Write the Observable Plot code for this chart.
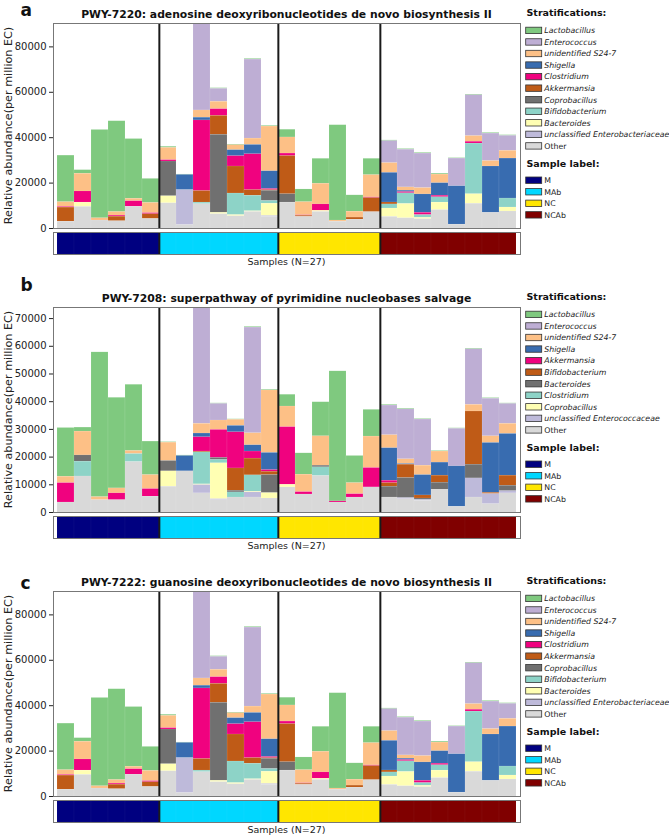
<!DOCTYPE html>
<html><head><meta charset="utf-8">
<script src="https://cdn.jsdelivr.net/npm/d3@7"></script>
<script src="https://cdn.jsdelivr.net/npm/@observablehq/plot@0.6"></script>
<style>
body{margin:0;background:#fff;}
#chart{position:relative;width:669px;height:836px;overflow:hidden;background:#fff;font-family:"DejaVu Sans",sans-serif;}
#chart svg{position:absolute;left:0;}
</style></head><body><div id="chart"></div>
<script>
// ---------- categories ----------
const samples = ["S1","S2","S3","S4","S5","S6","S7","S8","S9","S10","S11","S12","S13","S14","S15","S16","S17","S18","S19","S20","S21","S22","S23","S24","S25","S26","S27"];
const sampleGroups = ["M","M","M","M","M","M","MAb","MAb","MAb","MAb","MAb","MAb","MAb","NC","NC","NC","NC","NC","NC","NCAb","NCAb","NCAb","NCAb","NCAb","NCAb","NCAb","NCAb"];
const groupNames = ["M","MAb","NC","NCAb"];
const groupColors = ["#000080","#00d7ff","#ffe600","#800000"];
const stratColors = ["#7fc97f","#beaed4","#fdc086","#386cb0","#f0027f","#bf5b17","#707070","#8dd3c7","#ffffb3","#bebada","#d9d9d9"];

// ---------- PWY-7220 / PWY-7222 (identical panels a and c) ----------
const taxaA = ["Lactobacillus","Enterococcus","unidentified S24-7","Shigella","Clostridium","Akkermansia","Coprobacillus","Bifidobacterium","Bacteroides","unclassified Enterobacteriaceae","Other"];
const A_Lactobacillus = [20500,1600,38900,40000,26300,10600, 500,200,0,300,300,300,300, 3400,5600,11000,42000,7200,7200, 300,300,300,400,200,300,300,300];
const A_Enterococcus  = [0,0,0,0,0,0, 0,0,42000,5700,0,34800,0, 0,0,0,0,0,0, 9700,16600,15200,0,12200,18000,12100,6600];
const A_S24_7         = [2100,7800,1000,1600,1100,4500, 5400,0,3200,3250,2200,2800,19700, 7100,5800,9100,500,2600,9800, 4300,1450,2800,3800,0,2500,2400,3400];
const A_Shigella      = [0,0,0,0,0,0, 0,6700,1200,0,2650,4100,7800, 0,0,0,0,0,0, 13050,600,8100,5500,16900,0,20400,17600];
const A_Clostridium   = [300,4900,0,450,2400,450, 600,0,31100,2950,4550,15800,500, 1100,200,2800,0,0,300, 0,550,1000,700,0,800,0,0];
const A_Akkermansia   = [6200,0,0,2000,0,2100, 0,0,5100,8350,11900,2500,300, 16800,500,0,0,900,6200, 850,0,0,0,0,0,0,0];
const A_Coprobacillus = [0,0,0,0,0,0, 15300,0,0,34350,0,0,4500, 3700,0,0,0,0,0, 0,0,0,0,0,0,0,0];
const A_Bifidobacterium = [0,0,0,0,0,0, 0,0,700,0,9500,6800,1200, 0,0,0,0,0,0, 1800,4700,1200,2350,0,22300,0,3950];
const A_Bacteroides   = [0,1900,0,0,0,0, 3100,0,0,600,500,300,5400, 0,0,500,0,0,0, 3700,6300,600,3300,0,4200,0,1750];
const A_Unclassified  = [0,0,0,0,0,0, 0,15400,0,0,0,0,400, 0,0,0,0,0,0, 0,0,0,0,0,0,0,0];
const A_Other         = [3000,9500,3500,3200,9600,4200, 11100,1500,10700,6300,5400,7300,5100, 11400,5100,7300,3000,3900,7200, 5100,4500,4100,8100,1700,10900,6900,7500];
const valuesA = [A_Lactobacillus,A_Enterococcus,A_S24_7,A_Shigella,A_Clostridium,A_Akkermansia,A_Coprobacillus,A_Bifidobacterium,A_Bacteroides,A_Unclassified,A_Other];

// ---------- PWY-7208 (panel b) ----------
const taxaB = ["Lactobacillus","Enterococcus","unidentified S24-7","Shigella","Akkermansia","Bifidobacterium","Bacteroides","Clostridium","Coprobacillus","unclassified Enterococcaceae","Other"];
const B_Lactobacillus = [17600,1450,52250,32700,23900,12100, 200,200,0,200,200,250,250, 4250,7700,12300,46950,9800,9650, 250,250,200,200,200,250,250,200];
const B_Enterococcus  = [0,0,0,0,0,0, 0,0,44000,6000,0,38150,0, 0,0,0,0,0,0, 10700,18000,16650,0,13550,20050,13550,7200];
const B_S24_7         = [2300,8600,1100,1800,1100,5050, 6600,0,3500,3400,2200,4350,22550, 7450,6300,10600,0,4000,11350, 4700,1700,3400,4000,0,2400,2400,3650];
const B_Shigella      = [0,0,0,0,0,0, 0,5550,1350,0,2300,2250,6200, 0,0,0,0,0,0, 11750,250,7350,4700,14600,0,18000,15050];
const B_Akkermansia   = [7000,0,0,2450,0,2750, 0,0,5150,10100,13050,2550,600, 20800,850,0,400,1200,7000, 850,0,0,0,0,0,0,0];
const B_Bifidobacterium = [0,0,0,0,0,0, 0,0,300,0,8050,6050,1200, 0,0,0,0,0,0, 1300,4800,1100,2550,0,19200,450,3650];
const B_Bacteroides   = [0,2250,0,0,0,0, 3750,0,0,750,600,0,6500, 0,0,600,0,0,0, 3900,7250,500,2550,0,4950,0,1950];
const B_Clostridium   = [0,5350,0,0,2900,0, 0,0,11550,1200,1850,5900,0, 0,0,3150,0,0,0, 0,0,0,0,0,0,0,0];
const B_Coprobacillus = [0,0,0,0,0,0, 5550,0,250,12950,0,250,1950, 950,0,0,0,0,0, 0,0,0,0,0,0,0,0];
const B_Unclassified  = [0,0,0,0,0,0, 0,0,3000,350,0,1850,0, 0,0,0,0,0,0, 0,400,350,0,0,6900,3650,800];
const B_Other         = [3600,13000,4450,4450,18200,5700, 9300,14850,6900,4450,5400,5400,5050, 9050,6500,13150,3600,5400,9050, 5400,4800,4200,8200,2050,5400,3000,6900];
const valuesB = [B_Lactobacillus,B_Enterococcus,B_S24_7,B_Shigella,B_Akkermansia,B_Bifidobacterium,B_Bacteroides,B_Clostridium,B_Coprobacillus,B_Unclassified,B_Other];

const ticksA = [0,20000,40000,60000,80000];
const ticksB = [0,10000,20000,30000,40000,50000,60000,70000];

const panels = [
  {letter:"a", letterY:16, top:0, title:"PWY-7220: adenosine deoxyribonucleotides de novo biosynthesis II", taxa:taxaA, values:valuesA, ymax:90300, ticks:ticksA},
  {letter:"b", letterY:7, top:284, title:"PWY-7208: superpathway of pyrimidine nucleobases salvage", taxa:taxaB, values:valuesB, ymax:74000, ticks:ticksB},
  {letter:"c", letterY:20.5, top:568, title:"PWY-7222: guanosine deoxyribonucleotides de novo biosynthesis II", taxa:taxaA, values:valuesA, ymax:90300, ticks:ticksA}
];

const chart = document.getElementById("chart");
const W = 521, ML = 53, MR = 1;
const bw = (W - ML - MR) / samples.length;
const boundaries = samples.filter((s,i) => i > 0 && sampleGroups[i] !== sampleGroups[i-1]);
const groupRows = samples.map((s,i) => ({sample:s, group:sampleGroups[i]}));

for (const p of panels) {
  const rows = [];
  p.taxa.forEach((t,k) => p.values[k].forEach((v,i) => { if (v > 0) rows.push({sample:samples[i], taxon:t, value:v}); }));
  const order = p.taxa.slice().reverse();
  const bars = Plot.plot({
    width: W, height: 229, marginTop: 23, marginBottom: 1, marginLeft: ML, marginRight: MR,
    style: {fontFamily:"DejaVu Sans", fontSize:"10px", color:"#222", background:"transparent", overflow:"visible"},
    x: {type:"band", domain:samples, padding:0, axis:null},
    y: {domain:[0,p.ymax], ticks:p.ticks, tickSize:4, tickPadding:3, tickFormat:d=>String(d), label:null, clamp:true},
    color: {domain:p.taxa, range:stratColors},
    marks: [
      Plot.barY(rows, {x:"sample", y:"value", fill:"taxon", order:order, inset:0, stroke:"#fff", strokeWidth:0.4, strokeOpacity:0.2}),
      Plot.ruleX(boundaries, {x:d=>d, dx:-bw/2, stroke:"#1a1a1a", strokeWidth:2}),
      Plot.frame({stroke:"#777", strokeWidth:1})
    ]
  });
  bars.style.top = p.top + "px";
  chart.appendChild(bars);

  const labelBar = Plot.plot({
    width: W, height: 23, marginTop: 1, marginBottom: 0, marginLeft: ML, marginRight: MR,
    style: {background:"transparent", overflow:"visible"},
    x: {type:"band", domain:samples, padding:0, axis:null},
    color: {domain:groupNames, range:groupColors},
    marks: [
      Plot.cell(groupRows, {x:"sample", fill:"group", inset:0, stroke:"#fff", strokeOpacity:0.05, strokeWidth:0.6}),
      Plot.ruleX(boundaries, {x:d=>d, dx:-bw/2, stroke:"#1a1a1a", strokeWidth:2}),
      Plot.frame({stroke:"#777", strokeWidth:1})
    ]
  });
  labelBar.style.top = (p.top + 231) + "px";
  chart.appendChild(labelBar);
}

// ---------- text overlay: titles, axis labels, legends ----------
const svg = d3.select(chart).append("svg")
  .attr("width",669).attr("height",836).style("top","0px")
  .style("font-family","DejaVu Sans").style("pointer-events","none");

for (const p of panels) {
  const g = svg.append("g").attr("transform", `translate(0,${p.top})`);
  g.append("text").attr("x",20.5).attr("y",p.letterY).attr("font-size",17).attr("font-weight","bold").attr("fill","#111").text(p.letter);
  g.append("text").attr("x",(ML + W - MR)/2).attr("y",17.9).attr("text-anchor","middle").attr("font-size",10.8).attr("font-weight","bold").attr("fill","#111").text(p.title);
  g.append("text").attr("transform",`translate(11.5,${23+102.5}) rotate(-90)`).attr("text-anchor","middle").attr("font-size",11.2).attr("fill","#222").text("Relative abundance(per million EC)");
  g.append("text").attr("x",(ML + W - MR)/2).attr("y",261.5+3.4).attr("text-anchor","middle").attr("font-size",9.5).attr("fill","#222").text("Samples (N=27)");

  // legend
  g.append("text").attr("x",526.5).attr("y",13+3.4).attr("font-size",9.5).attr("font-weight","bold").attr("fill","#111").text("Stratifications:");
  p.taxa.forEach((t,i) => {
    const cy = 30.4 + 11.55*i;
    g.append("rect").attr("x",525.7).attr("y",cy-3.2).attr("width",16).attr("height",6.4).attr("fill",stratColors[i]).attr("stroke","#333").attr("stroke-width",0.8);
    g.append("text").attr("x",544.3).attr("y",cy+2.8).attr("font-size",7.8).attr("font-style", t === "Other" ? "normal" : "italic").attr("fill","#222").text(t);
  });
  g.append("text").attr("x",526.5).attr("y",163.5+3.4).attr("font-size",9.5).attr("font-weight","bold").attr("fill","#111").text("Sample label:");
  groupNames.forEach((t,i) => {
    const cy = 180.2 + 11.55*i;
    g.append("rect").attr("x",525.7).attr("y",cy-3.2).attr("width",16).attr("height",6.4).attr("fill",groupColors[i]).attr("stroke","#333").attr("stroke-width",0.8);
    g.append("text").attr("x",544.3).attr("y",cy+2.8).attr("font-size",7.8).attr("fill","#222").text(t);
  });
}
</script></body></html>
